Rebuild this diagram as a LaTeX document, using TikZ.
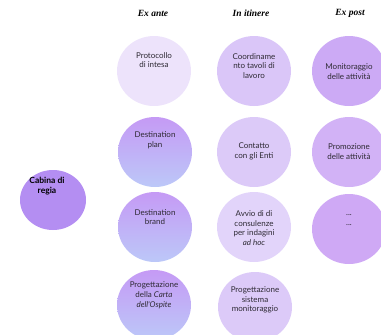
\documentclass[tikz,border=0pt]{standalone}
\usepackage{fontspec}
\setmainfont{Liberation Serif}
\newfontfamily\circfont{Lato}
\usetikzlibrary{shapes.geometric}

\definecolor{lila1}{HTML}{EDE3FB}
\definecolor{lila2}{HTML}{DAC6F8}
\definecolor{lila3}{HTML}{CCAAF5}
\definecolor{lila4}{HTML}{DCCAF8}
\definecolor{lila5}{HTML}{D2B2F6}
\definecolor{lila6}{HTML}{E2D4FA}
\definecolor{lila7}{HTML}{CFA9F5}
\definecolor{lilatop}{HTML}{C59AF5}
\definecolor{lilabot}{HTML}{BCC8F8}
\definecolor{regia}{HTML}{B48EF2}
\definecolor{txtgray}{HTML}{2E2A34}

\begin{document}
\begin{tikzpicture}[x=1pt, y=-1pt,
		blob/.style={ellipse, minimum width=74pt, minimum height=70pt, inner sep=0pt},
		grad/.style={blob, top color=lilatop, bottom color=lilabot},
		txt/.style={align=center, text=txtgray, font=\circfont\fontsize{8}{9.8}\selectfont},
		head/.style={font=\bfseries\itshape\fontsize{9.5}{11}\selectfont}]
		\useasboundingbox (0,0) rectangle (381,335);
	
		% 見出し
		\node[head] (H1) at (153, 13) {Ex ante};
		\node[head] (H2) at (251, 13) {In itinere};
		\node[head] (H3) at (350, 13) {Ex post};
	
		% 楕円を描画
		\node[blob, fill=regia, minimum width=66pt, minimum height=60pt] (R) at (53, 200) {};
		\node[blob, fill=lila1] (A1) at (154, 71) {};
		\node[blob, fill=lila2] (B1) at (254, 71) {};
		\node[blob, fill=lila3] (C1) at (349, 71) {};
		\node[grad] (A2) at (155, 152) {};
		\node[blob, fill=lila4] (B2) at (254, 152) {};
		\node[blob, fill=lila5] (C2) at (349, 152) {};
		\node[grad] (A3) at (155, 227) {};
		\node[blob, fill=lila6] (B3) at (254, 227) {};
		\node[blob, fill=lila7] (C3) at (349, 229) {};
		\node[grad] (A4) at (154, 305) {};
		\node[blob, fill=lila4] (B4) at (255, 307) {};
	
		% テキストを追加
		\node[txt, font=\circfont\bfseries\fontsize{8.5}{10}\selectfont, text=black] (Rt) at (47, 186) {Cabina di\\regia};
		\node[txt] (A1t) at (154, 60) {Protocollo\\di intesa};
		\node[txt] (B1t) at (254, 66) {Coordiname\\nto tavoli di\\lavoro};
		\node[txt] (C1t) at (349, 72) {Monitoraggio\\delle attività};
		\node[txt] (A2t) at (155, 140) {Destination\\plan};
		\node[txt] (B2t) at (254, 151) {Contatto\\con gli Enti};
		\node[txt] (C2t) at (349, 152) {Promozione\\delle attività};
		\node[txt] (A3t) at (155, 217) {Destination\\brand};
		\node[txt] (B3t) at (254, 228) {Avvio di di\\consulenze\\per indagini\\\textit{ad hoc}};
		\node[txt] (C3t) at (349, 220) {...\\...};
		\node[txt] (A4t) at (154, 295) {Progettazione\\della \textit{Carta}\\\textit{dell'Ospite}};
		\node[txt] (B4t) at (255, 300) {Progettazione\\sistema\\monitoraggio};
	\end{tikzpicture}
\end{document}
